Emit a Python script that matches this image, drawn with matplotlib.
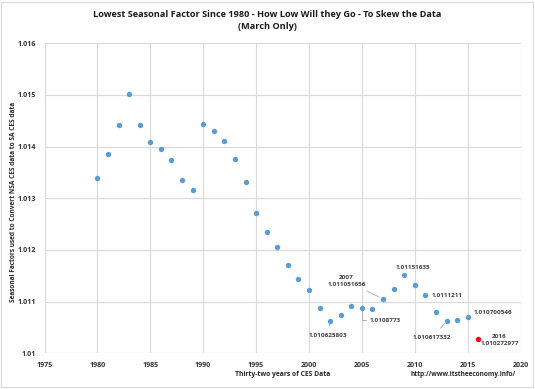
import matplotlib
matplotlib.use("Agg")
import matplotlib.pyplot as plt

plt.rcParams['font.family'] = ['Open Sans', 'DejaVu Sans']

years = list(range(1980, 2016))
factors = [1.013399, 1.013863, 1.014419, 1.015025, 1.014419, 1.014090, 1.013948,
           1.013736, 1.013349, 1.013161, 1.014444, 1.014309, 1.014103, 1.013761,
           1.013310, 1.012710, 1.012348, 1.012052, 1.011703, 1.011440, 1.011225,
           1.010883, 1.010625803, 1.010748, 1.010922, 1.0108773, 1.010864,
           1.011051656, 1.011239, 1.01151635, 1.011322, 1.0111211, 1.010800,
           1.010617332, 1.010645, 1.010700546]
year_2016 = 2016
factor_2016 = 1.010272977

yticks = [1.01, 1.011, 1.012, 1.013, 1.014, 1.015, 1.016]
ytick_labels = ["1.01", "1.011", "1.012", "1.013", "1.014", "1.015", "1.016"]
xticks = list(range(1975, 2021, 5))

fig = plt.figure(figsize=(5.35, 3.89), dpi=100)
ax = fig.add_axes([0.0832, 0.0918, 0.8898, 0.7969])

ax.scatter(years, factors, s=15, color='#5B9BD5', zorder=3, linewidths=0)
ax.scatter([year_2016], [factor_2016], s=15, color='#FF0000', zorder=3, linewidths=0)

ax.set_xlim(1975, 2020)
ax.set_ylim(1.01, 1.016)
ax.set_xticks(xticks)
ax.set_yticks(yticks)
ax.set_yticklabels(ytick_labels)
ax.tick_params(length=0, labelsize=5.1, colors='#333333', pad=6)
for lab in ax.get_xticklabels() + ax.get_yticklabels():
    lab.set_fontweight('bold')
ax.grid(True, color='#d9d9d9', linewidth=0.8)
ax.set_axisbelow(True)
for s in ax.spines.values():
    s.set_visible(False)
ax.axhline(1.01, color='#d9d9d9', linewidth=0.8)

fs = 4.6
tc = '#404040'
lc = '#a6a6a6'
def v(y):
    return factors[years.index(y)]

ax.annotate("1.010625803", xy=(2002, v(2002)), xytext=(2001.77, 1.010349),
            fontsize=fs, fontweight='bold', color=tc, ha='center', va='center',
            arrowprops=dict(arrowstyle='-', color=lc, lw=0.6, shrinkA=3, shrinkB=2))
ax.annotate("1.0108773", xy=(2005, v(2005)), xytext=(2005.77, 1.010639),
            fontsize=fs, fontweight='bold', color=tc, ha='left', va='center',
            arrowprops=dict(arrowstyle='-', color=lc, lw=0.6, shrinkA=1, shrinkB=2,
                            connectionstyle='angle,angleA=0,angleB=90,rad=0'))
ax.annotate("2007\n1.011051656", xy=(2007, v(2007)), xytext=(2003.55, 1.0114),
            fontsize=fs, fontweight='bold', color=tc, ha='center', va='center',
            linespacing=1.5,
            arrowprops=dict(arrowstyle='-', color=lc, lw=0.6, shrinkA=2, shrinkB=3))
ax.text(2009.84, 1.011665, "1.01151635", fontsize=fs, fontweight='bold', color=tc,
        ha='center', va='center')
ax.text(2011.6, 1.011115, "1.0111211", fontsize=fs, fontweight='bold', color=tc,
        ha='left', va='center')
ax.annotate("1.010617332", xy=(2013, v(2013)), xytext=(2011.63, 1.010302),
            fontsize=fs, fontweight='bold', color=tc, ha='center', va='center',
            arrowprops=dict(arrowstyle='-', color=lc, lw=0.6, shrinkA=4, shrinkB=2))
ax.annotate("1.010700546", xy=(2015, v(2015)), xytext=(2015.54, 1.010794),
            fontsize=fs, fontweight='bold', color=tc, ha='left', va='center',
            arrowprops=dict(arrowstyle='-', color=lc, lw=0.6, shrinkA=1, shrinkB=3))
ax.text(2018.0, 1.010264, "2016\n1.010272977", fontsize=fs, fontweight='bold', color=tc,
        ha='center', va='center', linespacing=1.5)

fig.text(0.5, 0.963, "Lowest Seasonal Factor Since 1980 - How Low Will they Go - To Skew the Data",
         ha='center', va='center', fontsize=6.6, fontweight='bold', color='#1a1a1a')
fig.text(0.5, 0.931, "(March Only)", ha='center', va='center', fontsize=6.6,
         fontweight='bold', color='#1a1a1a')
fig.text(0.528, 0.038, "Thirty-two years of CES Data", ha='center', va='center',
         fontsize=4.9, fontweight='bold', color='#262626')
fig.text(0.866, 0.038, "http://www.itstheeconomy.info/", ha='center', va='center',
         fontsize=4.7, fontweight='bold', color='#262626')
fig.text(0.026, 0.481, "Seasonal Factors used to Convert NSA CES data to SA CES data",
         ha='center', va='center', rotation=90, fontsize=4.7, fontweight='bold', color='#262626')

border = plt.Rectangle((0.002, 0.004), 0.994, 0.992, transform=fig.transFigure,
                       fill=False, edgecolor='#d9d9d9', linewidth=0.8)
fig.patches.append(border)

fig.savefig("out.png", dpi=100)
